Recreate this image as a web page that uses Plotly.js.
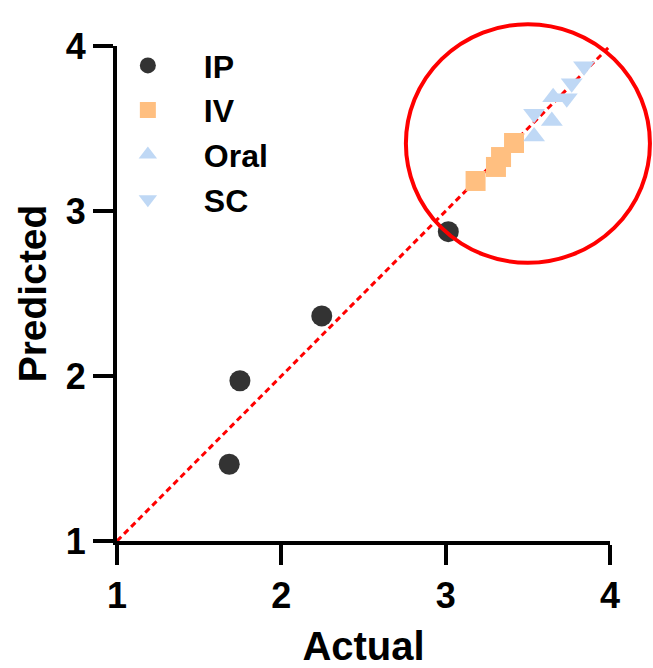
<!DOCTYPE html>
<html>
<head>
<meta charset="utf-8">
<script src="https://cdn.plot.ly/plotly-3.0.1.min.js"></script>
<style>
html,body{margin:0;padding:0;background:#fff;}
#chart{width:653px;height:668px;}
</style>
</head>
<body>
<div id="chart"></div>
<script>
// ---- data ----
const seriesNames = ["IP", "IV", "Oral", "SC"];
const ipActual = [1.683, 1.748, 2.246, 3.016];
const ipPredicted = [1.465, 1.971, 2.364, 2.875];
const ivActual = [3.182, 3.306, 3.337, 3.416];
const ivPredicted = [3.182, 3.267, 3.327, 3.412];
const oralActual = [3.538, 3.646, 3.654];
const oralPredicted = [3.452, 3.545, 3.690];
const scActual = [3.538, 3.737, 3.767, 3.842];
const scPredicted = [3.590, 3.683, 3.775, 3.877];
const identityLine = [1, 4];
const tickVals = [1, 2, 3, 4];
const tickText = ["1", "2", "3", "4"];

const FONT = "Liberation Sans, Arial, sans-serif";

const traces = [
  {x: identityLine, y: identityLine, mode: "lines", showlegend: false, hoverinfo: "skip",
   line: {color: "#ff0000", width: 3, dash: "6px,4px"}},
  {x: ipActual, y: ipPredicted, mode: "markers", name: seriesNames[0], legendgroup: "a",
   marker: {symbol: "circle", size: 21, color: "#333333", line: {width: 0}}},
  {x: ivActual, y: ivPredicted, mode: "markers", name: seriesNames[1], legendgroup: "b",
   marker: {symbol: "square", size: 20, color: "#ffbf80", line: {width: 0}}},
  {x: oralActual, y: oralPredicted, mode: "markers", name: seriesNames[2], legendgroup: "c",
   marker: {symbol: "triangle-up", size: 19, color: "#bfd8f5", line: {width: 0}}},
  {x: scActual, y: scPredicted, mode: "markers", name: seriesNames[3], legendgroup: "d",
   marker: {symbol: "triangle-down", size: 19, color: "#bfd8f5", line: {width: 0}}}
];

const axisCommon = {
  range: [1, 4], tickvals: tickVals, ticktext: tickText,
  showgrid: false, zeroline: false, showline: true, linecolor: "#000", linewidth: 4,
  ticks: "outside", ticklen: 20, tickwidth: 4, tickcolor: "#000",
  tickfont: {family: FONT, size: 36, color: "#000", weight: "bold"},
  fixedrange: true, automargin: false
};

const layout = {
  width: 653, height: 668,
  margin: {l: 117, r: 43, t: 46, b: 127},
  paper_bgcolor: "#fff", plot_bgcolor: "#fff",
  font: {family: FONT, color: "#000"},
  xaxis: Object.assign({}, axisCommon, {
    title: {text: "<b>Actual</b>", font: {family: FONT, size: 40, color: "#000"}, standoff: 26},
    ticklabelstandoff: 0
  }),
  yaxis: Object.assign({}, axisCommon, {
    title: {text: "<b>Predicted</b>", font: {family: FONT, size: 39, color: "#000"}, standoff: 8},
    ticklabelstandoff: 0
  }),
  legend: {
    x: -0.051, y: 1.016, xanchor: "left", yanchor: "top",
    font: {family: FONT, size: 32, color: "#000", weight: "bold"},
    bgcolor: "rgba(0,0,0,0)", traceorder: "grouped", tracegroupgap: 0,
    itemwidth: 102
  },
  shapes: [
    {type: "circle", xref: "paper", yref: "paper",
     x0: 0.586, x1: 1.081, y0: 0.562, y1: 1.044,
     line: {color: "#ff0000", width: 4}, fillcolor: "rgba(0,0,0,0)", layer: "above"}
  ],
  showlegend: true
};

Plotly.newPlot("chart", traces, layout, {displayModeBar: false, staticPlot: true});
</script>
</body>
</html>
